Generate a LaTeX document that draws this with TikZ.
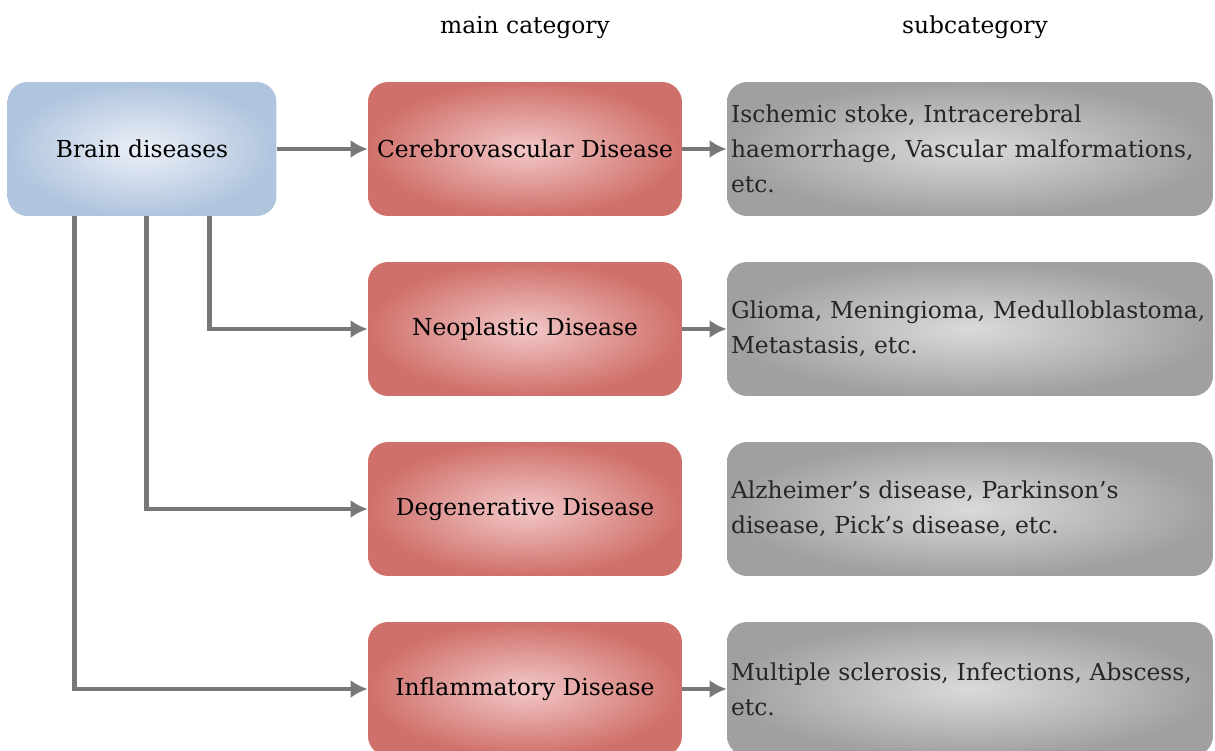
\documentclass[tikz,border=0pt]{standalone}
\usepackage{fontspec}
\setmainfont{DejaVu Serif}
\usepackage{xcolor}
\usepackage{tikz}
\usetikzlibrary{positioning,arrows.meta}

\definecolor{rootout}{RGB}{176,196,222}
\definecolor{rootin}{RGB}{236,240,247}
\definecolor{mainout}{RGB}{208,112,106}
\definecolor{mainin}{RGB}{242,200,200}
\definecolor{subout}{RGB}{160,160,160}
\definecolor{subin}{RGB}{218,218,218}
\definecolor{linkgray}{RGB}{120,120,120}

\tikzset{
  box/.style={rounded corners=0.4cm, minimum height=2.68cm, inner sep=0pt,
    font=\fontsize{13.3}{20}\selectfont},
  rootbox/.style={box, minimum width=5.38cm, outer color=rootout, inner color=rootin},
  mainbox/.style={box, minimum width=6.28cm, outer color=mainout, inner color=mainin},
  subbox/.style={box, minimum width=9.72cm, text width=9.56cm, align=left,
    outer color=subout, inner color=subin, text=black!85},
  head/.style={font=\fontsize{13.3}{16}\selectfont},
  conn/.style={->, draw=linkgray, line width=2.8pt}
}

\begin{document}
\begin{tikzpicture}[x=0.02cm, y=-0.02cm, >={Latex[length=0.34cm,width=0.36cm]}]
	\useasboundingbox (0,0) rectangle (1215,751);
	
	% column headings
	\node[head] (hmain) at (525,27) {main category};
	\node[head] (hsub) at (975,27) {subcategory};
	
	% boxes
	\node[rootbox] (brain) at (142,149) {Brain diseases};
	
	\node[mainbox] (cereb) at (525,149) {Cerebrovascular Disease};
	\node[mainbox] (neo) at (525,329) {Neoplastic Disease};
	\node[mainbox] (degen) at (525,509) {Degenerative Disease};
	\node[mainbox] (inflam) at (525,689) {Inflammatory Disease};
	
	\node[subbox] (cerebsub) at (970,149) {Ischemic stoke, Intracerebral\\ haemorrhage, Vascular malformations,\\ etc.};
	\node[subbox] (neosub) at (970,329) {Glioma, Meningioma, Medulloblastoma,\\ Metastasis, etc.};
	\node[subbox] (degensub) at (970,509) {Alzheimer's disease, Parkinson's\\ disease, Pick's disease, etc.};
	\node[subbox] (inflamsub) at (970,689) {Multiple sclerosis, Infections, Abscess,\\ etc.};
	
	% links
	\draw[conn] (brain) -- (cereb);
	\draw[conn] ([xshift=4.04cm]brain.south west) |- (neo);
	\draw[conn] ([xshift=2.78cm]brain.south west) |- (degen);
	\draw[conn] ([xshift=1.34cm]brain.south west) |- (inflam);
	
	\draw[conn] (cereb) -- (cerebsub);
	\draw[conn] (neo) -- (neosub);
	\draw[conn] (inflam) -- (inflamsub);
\end{tikzpicture}
\end{document}
